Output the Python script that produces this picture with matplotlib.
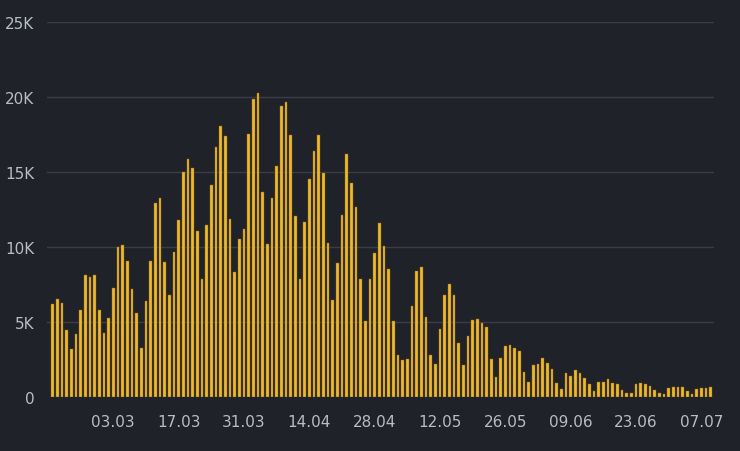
import matplotlib
matplotlib.use("Agg")
import matplotlib.pyplot as plt
import pandas as pd
import numpy as np

start = "2020-02-19"
values_k = [6.2,6.55,6.3,4.5,3.2,4.2,5.8,8.15,8.0,8.15,5.8,4.3,5.3,7.3,10.0,10.15,9.1,7.2,5.6,3.3,
            6.4,9.1,12.95,13.3,9.0,6.8,9.7,11.8,15.0,15.85,15.3,11.1,7.9,11.5,14.15,16.7,18.1,17.4,11.9,8.35,
            10.55,11.2,17.55,19.9,20.3,13.7,10.2,13.3,15.4,19.4,19.65,17.45,12.1,7.85,11.65,14.55,16.4,17.5,14.95,10.3,
            6.5,8.95,12.15,16.2,14.25,12.7,7.9,5.05,7.9,9.6,11.6,10.05,8.55,5.1,2.8,2.5,2.55,6.05,8.4,8.7,
            5.35,2.8,2.2,4.55,6.8,7.55,6.8,3.6,2.15,4.1,5.15,5.2,4.95,4.65,2.55,1.35,2.6,3.4,3.5,3.3,
            3.1,1.7,1.0,2.15,2.2,2.6,2.25,1.9,0.95,0.55,1.6,1.4,1.8,1.6,1.3,0.85,0.4,1.0,1.0,1.2,
            0.95,0.85,0.45,0.3,0.3,0.85,0.95,0.85,0.75,0.45,0.3,0.2,0.6,0.7,0.7,0.7,0.4,0.2,0.55,0.6,
            0.6,0.65]
values = [v * 1000 for v in values_k]
dates = pd.date_range(start, periods=len(values), freq="D")
tick_labels = ["03.03","17.03","31.03","14.04","28.04","12.05","26.05","09.06","23.06","07.07"]
y_ticks = [0, 5000, 10000, 15000, 20000, 25000]
y_labels = ["0", "5K", "10K", "15K", "20K", "25K"]

bg = "#202229"
fig = plt.figure(figsize=(7.4, 4.52), dpi=100, facecolor=bg)
ax = fig.add_axes([47/740, 54/452, (714-47)/740, (398-23)/452])
ax.set_facecolor(bg)
x = np.arange(len(values))
ax.bar(x, values, width=0.55, color="#f0b92c", edgecolor="#8a6a1a", linewidth=0.3)
ax.set_ylim(0, 25000)
ax.set_xlim(-1.2, len(values) - 0.3)
ax.set_yticks(y_ticks)
ax.set_yticklabels(y_labels)
tick_pos = [list(dates.strftime("%d.%m")).index(t) for t in tick_labels]
ax.set_xticks(tick_pos)
ax.set_xticklabels(tick_labels)
ax.tick_params(colors="#b8bcc6", labelsize=11, length=0)
ax.tick_params(axis="x", pad=12)
ax.tick_params(axis="y", pad=9)
ax.grid(axis="y", color="#3a3d45", linewidth=1)
ax.set_axisbelow(True)
for s in ax.spines.values():
    s.set_visible(False)
fig.savefig("out.png", dpi=100, facecolor=bg)
